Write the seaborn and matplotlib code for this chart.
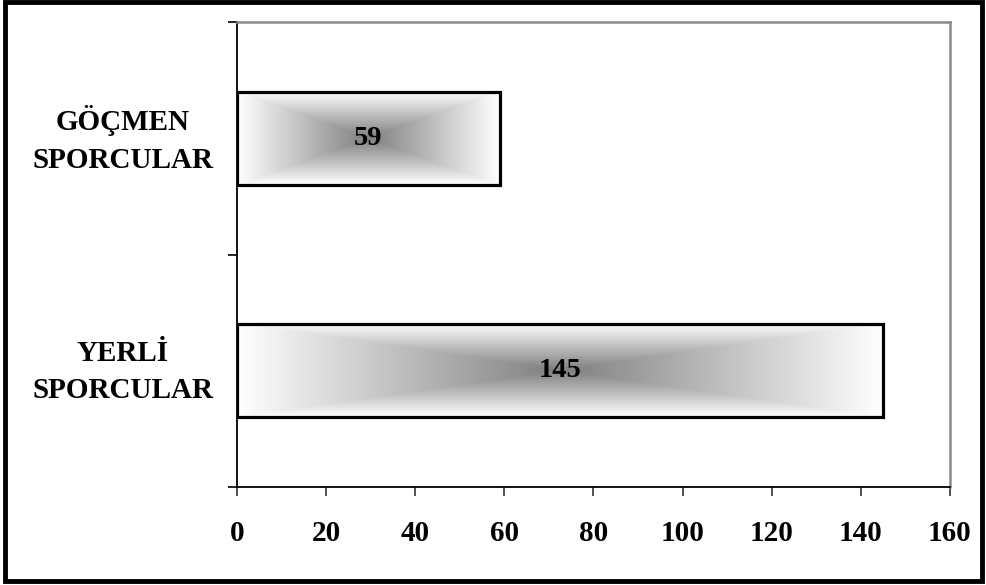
import numpy as np
import pandas as pd
import matplotlib
matplotlib.use("Agg")
import matplotlib.pyplot as plt
import matplotlib.transforms as mtransforms
from matplotlib.colors import LinearSegmentedColormap
from matplotlib.patches import Rectangle
import seaborn as sns

categories = ["GÖÇMEN\nSPORCULAR", "YERLİ\nSPORCULAR"]
values = [59, 145]
xticks = [0, 20, 40, 60, 80, 100, 120, 140, 160]

sns.set_style("white")
plt.rcParams["font.family"] = ["Liberation Serif", "DejaVu Serif"]
plt.rcParams["font.weight"] = "bold"
plt.rcParams["text.color"] = "black"
plt.rcParams["xtick.color"] = "black"
plt.rcParams["ytick.color"] = "black"
plt.rcParams["xtick.labelcolor"] = "black"
plt.rcParams["ytick.labelcolor"] = "black"

df = pd.DataFrame({"cat": categories, "val": values})

fig = plt.figure(figsize=(9.87, 5.85), dpi=100)
ax = fig.add_axes([0.2401, 0.1675, 0.9625 - 0.2401, 0.9624 - 0.1675])

sns.barplot(data=df, x="val", y="cat", orient="h", width=0.4, ax=ax,
            color="white", edgecolor="black", linewidth=2.3)

cmap = LinearSegmentedColormap.from_list("g", ["#7f7f7f", "#ffffff"])
n = 301
u = np.linspace(-1, 1, n)
U, V = np.meshgrid(u, u)
T = np.maximum(np.abs(U), np.abs(V))
for p in ax.patches:
    x0, y0, w, h = p.get_x(), p.get_y(), p.get_width(), p.get_height()
    p.set_facecolor("none")
    p.set_zorder(3)
    im = ax.imshow(T, cmap=cmap, vmin=0, vmax=1, aspect="auto",
                   extent=[x0, x0 + w, y0 + h, y0], zorder=2, interpolation="bilinear")
    im.set_clip_path(p)
    ax.text(x0 + w / 2, y0 + h / 2, f"{int(w)}", ha="center", va="center",
            fontsize=20.5, fontweight="bold", color="black", zorder=4)

ax.set_xlim(0, 160)
ax.set_ylim(1.5, -0.5)
ax.set_xticks(xticks)
ax.set_xticklabels([str(t) for t in xticks], fontsize=21, fontweight="bold", color="black")
ax.tick_params(axis="x", bottom=True, length=6.5, width=1.2, color="#333333", pad=17, direction="out")
ax.set_yticks([0, 1])
ax.set_yticklabels(categories, fontsize=21, fontweight="bold", color="black",
                   linespacing=1.5, multialignment="center")
ax.tick_params(axis="y", which="major", left=True, length=0, pad=17)
ax.set_yticks([-0.5, 0.5, 1.5], minor=True)
ax.tick_params(axis="y", which="minor", left=True, length=6.5, width=1.2, color="black", direction="out")
ax.set_xlabel("")
ax.set_ylabel("")

shift = mtransforms.ScaledTranslation(0, 7 / 100, fig.dpi_scale_trans)
for lab in ax.get_yticklabels():
    lab.set_transform(lab.get_transform() + shift)

for s in ["left", "bottom"]:
    ax.spines[s].set_color("black")
    ax.spines[s].set_linewidth(1.3)
for s in ["top", "right"]:
    ax.spines[s].set_visible(True)
    ax.spines[s].set_color("#8a8a8a")
    ax.spines[s].set_linewidth(1.8)

fig.patches.append(Rectangle((0.0055, 0.0075), 0.9895, 0.989, transform=fig.transFigure,
                             fill=False, edgecolor="black", linewidth=3.5))

fig.savefig("out.png", dpi=100, facecolor="white")
